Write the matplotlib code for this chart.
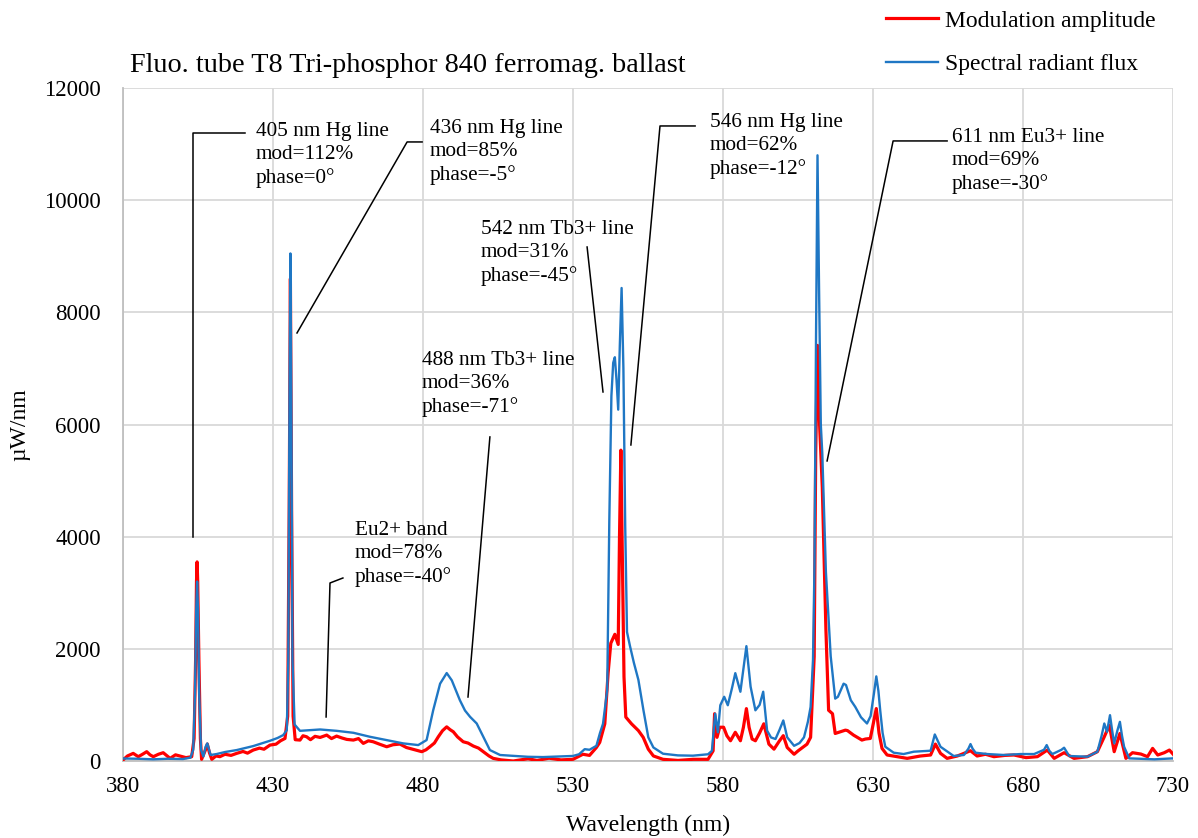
import matplotlib
matplotlib.use("Agg")
import matplotlib.pyplot as plt

plt.rcParams['font.family'] = ['Liberation Serif', 'DejaVu Serif']

# Spectral radiant flux (blue)
wl_flux = [380, 385, 390, 395, 400, 402.5, 403.4, 404.0, 404.4, 404.7, 405.0, 405.4, 406.0, 406.8,
           407.5, 408.1, 408.7, 409.2, 411.2, 414, 417.9, 423.4, 429, 431.5, 433.4, 434.6, 435.1,
           435.5, 435.8, 436.1, 436.5, 437.2, 439, 445.7, 451.2, 456.8, 462.3, 467.9, 473.4, 478.4,
           481.2, 483.4, 485.7, 487.9, 489.6, 492.3, 494, 495.7, 497.9, 500.1, 502.3, 505.7, 511.2,
           515, 520, 525, 530, 532, 533.9, 535.5, 537.8, 539, 540, 541.4, 541.7, 542.1, 542.8, 543.4,
           543.95, 544.5, 545.07, 545.6, 546.2, 546.8, 547.4, 548.0, 549.0, 550.3, 551.8, 553.5,
           555.1, 556.8, 560, 565, 570, 575, 576.3, 577.4, 578.3, 579.1, 580.4, 581.6, 583, 584.1,
           585.8, 587.8, 589.2, 590.8, 592.2, 593.4, 594.7, 596, 597.5, 598.8, 600.1, 601.4, 603.7,
           605.5, 607, 608.3, 609.2, 610.0, 610.5, 611.0, 611.5, 612.0, 612.6, 613.1, 614.3, 615.9,
           617.4, 618.3, 620.2, 621.0, 622.6, 624.1, 626, 628.0, 629.2, 630.3, 631.1, 631.8, 632.4,
           633.2, 634.1, 636.9, 640.2, 643.6, 649.2, 650.0, 650.6, 651.4, 652.5, 656.9, 660.3, 661.8,
           662.5, 663.2, 664.2, 668.1, 673.7, 679.2, 683.7, 687.0, 687.9, 688.8, 689.8, 692.8, 693.7,
           695.4, 701.5, 704.8, 706.2, 707.1, 708.0, 709.0, 709.7, 710.4, 711.5, 712.3, 713.0, 713.7,
           715.4, 723.8, 730]
flux = [45, 40, 30, 40, 35, 60, 200, 1200, 2700, 3200, 2700, 1200, 200, 80,
        250, 314, 200, 107, 124, 160, 195, 266, 361, 410, 462, 550, 1800,
        6500, 9050, 6500, 1800, 650, 538, 562, 538, 503, 432, 373, 314, 284,
        373, 905, 1379, 1568, 1438, 1083, 900, 787, 669, 432, 195, 107, 89,
        75, 70, 80, 90, 120, 211, 200, 271, 500, 663, 1265, 2500, 4277, 6506, 7100,
        7199, 6800, 6265, 7400, 8434, 7000, 4200, 2300, 2048, 1750, 1446, 900,
        422, 241, 130, 100, 95, 120, 181, 843, 512, 994, 1145, 994, 1300, 1566,
        1235, 2048, 1325, 904, 1000, 1235, 542, 420, 392, 550, 723, 422, 271,
        320, 422, 700, 964, 1800, 3500, 7500, 10800, 8500, 6000, 5482, 3373, 1867,
        1112, 1145, 1379, 1355, 1084, 964, 780, 669, 800, 1200, 1509, 1250, 905,
        500, 254, 148, 124, 166, 183, 350, 473, 380, 254, 89, 107, 220,
        302, 220, 148, 124, 107, 124, 124, 200, 284, 180, 124, 200, 237,
        89, 77, 166, 450, 669, 521, 817, 550, 314, 550, 698, 450, 254,
        47, 30, 47]

# Modulation amplitude (red)
wl_mod = [380, 381.5, 383.4, 385.1, 386.5, 387.9, 389, 390.1, 391.8, 393.4, 395.7, 397.5, 399, 401,
          402.9, 403.7, 404.2, 404.5, 404.7, 404.9, 405.3, 405.8, 406.2, 407.5, 408.1, 408.8, 409.6,
          411, 412.3, 414, 416, 417.9, 420, 421.5, 423.4, 425.5, 427, 429, 431, 432.5, 434, 434.9,
          435.4, 435.8, 436.2, 436.7, 437.4, 439, 440, 441.2, 442.5, 444, 445.7, 447.9, 449.5, 451.2,
          453, 454.6, 456.8, 458.5, 460.1, 461.8, 463.4, 465.5, 467.9, 470, 472.3, 474.5, 476.8,
          479.6, 481, 482.3, 483.8, 485.1, 486.5, 487.9, 489, 490.1, 491.5, 493.4, 495, 496.8, 498.5,
          500.1, 502, 503.4, 506, 510.1, 515, 518, 522, 526, 530, 533.3, 535.5, 537.8, 538.9, 540.6,
          541.7, 542.6, 543.95, 545.07, 545.5, 545.96, 546.5, 547.0, 547.6, 549.5, 551.8, 553.4,
          555.1, 556.8, 560, 565, 570, 575, 576.7, 577.2, 578, 578.9, 580.2, 581.3, 582.5, 584.1,
          585.8, 586.8, 587.8, 588.7, 589.7, 590.8, 592.2, 593.6, 595.3, 597, 598.7, 600.1, 601.4,
          603.7, 605, 606.5, 608, 609.2, 610.4, 610.9, 611.5, 612.2, 613.1, 614.3, 615.2, 616.5,
          617.4, 619.1, 620.8, 621.5, 623.5, 626.3, 627.5, 629.1, 630.2, 631.1, 632, 633.0, 634.7,
          638, 641.4, 645.8, 649.2, 650.8, 652.5, 654.7, 658.1, 662.5, 664.7, 667.5, 670.3, 674,
          677, 681, 684.8, 688.1, 690.4, 693.7, 697, 701.5, 704.8, 707.1, 708.8, 710.4, 712.3,
          714.3, 716.5, 719.3, 721.5, 723.2, 724.9, 727.1, 728.8, 730]
mod = [18, 90, 136, 77, 120, 166, 110, 77, 120, 148, 47, 110, 89, 60,
       77, 400, 1800, 3200, 3550, 3200, 1800, 400, 30, 200, 302, 150, 30,
       90, 77, 120, 100, 136, 170, 140, 195, 230, 210, 284, 300, 360, 402, 800,
       4500, 8600, 4500, 800, 380, 373, 450, 432, 380, 440, 420, 462, 400, 444,
       410, 385, 373, 400, 314, 360, 343, 300, 254, 290, 302, 240, 207,
       166, 200, 254, 320, 432, 540, 609, 560, 521, 430, 343, 320, 266, 230,
       166, 90, 47, 20, 0, 40, 10, 50, 20, 30, 120, 100, 241, 331, 663,
       1566, 2100, 2259, 2078, 4000, 5542, 3500, 1500, 783, 663, 542, 422,
       211, 90, 30, 10, 30, 30, 181, 843, 422, 602, 602, 450, 361, 512,
       361, 600, 934, 600, 392, 361, 500, 663, 301, 211, 350, 452, 241,
       120, 180, 241, 300, 422, 1867, 5482, 7410, 6000, 4880, 2349, 905, 843,
       491, 521, 550, 542, 462, 373, 392, 402, 700, 935, 500, 225, 107,
       77, 47, 89, 107, 302, 136, 47, 89, 183, 89, 120, 77, 100,
       107, 60, 77, 195, 47, 148, 47, 77, 166, 432, 639, 166, 491,
       47, 148, 124, 77, 225, 107, 148, 195, 124]

# Annotation texts
labels = ["405 nm Hg line\nmod=112%\nphase=0°",
          "436 nm Hg line\nmod=85%\nphase=-5°",
          "Eu2+ band\nmod=78%\nphase=-40°",
          "488 nm Tb3+ line\nmod=36%\nphase=-71°",
          "542 nm Tb3+ line\nmod=31%\nphase=-45°",
          "546 nm Hg line\nmod=62%\nphase=-12°",
          "611 nm Eu3+ line\nmod=69%\nphase=-30°"]

# leader polylines and text anchor (left, middle line) in data units
leaders = [
    ([403.3, 403.3, 420.7], [3994, 11198, 11198], (424.3, 10806)),
    ([438.0, 474.7, 479.7], [7632, 11038, 11038], (482.3, 10860)),
    ([447.7, 449.0, 453.3], [785, 3174, 3263], (457.3, 3691)),
    ([495.0, 502.3], [1141, 5778], (479.7, 6723)),
    ([540.0, 534.7], [6580, 9165], (499.3, 9058)),
    ([549.3, 559.0, 570.7], [5635, 11323, 11323], (575.7, 10966)),
    ([614.7, 636.7, 654.7], [5350, 11056, 11056], (656.3, 10699)),
]

fig = plt.figure(figsize=(11.98, 8.38), dpi=100)
ax = fig.add_axes([123 / 1198, 77 / 838, 1050 / 1198, 673 / 838])

ax.plot(wl_mod, mod, color="#ff0000", lw=2.3, label="Modulation amplitude", zorder=3)
ax.plot(wl_flux, flux, color="#1f77c4", lw=1.7, label="Spectral radiant flux", zorder=4)

for (xs, ys, (tx, ty)), txt in zip(leaders, labels):
    ax.plot(xs, ys, color="black", lw=1.1, zorder=5)
    ax.text(tx, ty, txt, ha="left", va="center", fontsize=15.3, linespacing=1.3, zorder=6)

ax.set_xlim(380, 730)
ax.set_ylim(0, 12000)
ax.set_xticks(range(380, 731, 50))
ax.set_yticks(range(0, 12001, 2000))
ax.grid(True, color="#d9d9d9", lw=1.3)
ax.set_axisbelow(True)
for s in ["top", "right"]:
    ax.spines[s].set_visible(False)
for s in ["left", "bottom"]:
    ax.spines[s].set_color("#bfbfbf")
    ax.spines[s].set_linewidth(1.3)
ax.tick_params(length=0, labelsize=16.5)
ax.tick_params(axis="y", pad=16)
ax.tick_params(axis="x", pad=11)

ax.set_xlabel("Wavelength (nm)", fontsize=17)
ax.xaxis.set_label_coords(0.5, -0.08)
ax.set_ylabel("µW/nm", fontsize=17)
ax.yaxis.set_label_coords(-0.088, 0.5)

fig.text(130 / 1198, 1 - 66 / 838, "Fluo. tube T8 Tri-phosphor 840 ferromag. ballast",
         fontsize=20.3, va="center", ha="left")

ax.legend(loc="upper left", bbox_to_anchor=(886 / 1198, 1 - 10 / 838), bbox_transform=fig.transFigure,
          frameon=False, fontsize=17, handlelength=2.2, handletextpad=0.3, labelspacing=0.95,
          borderpad=0, borderaxespad=0)

fig.savefig("out.png", dpi=100)
